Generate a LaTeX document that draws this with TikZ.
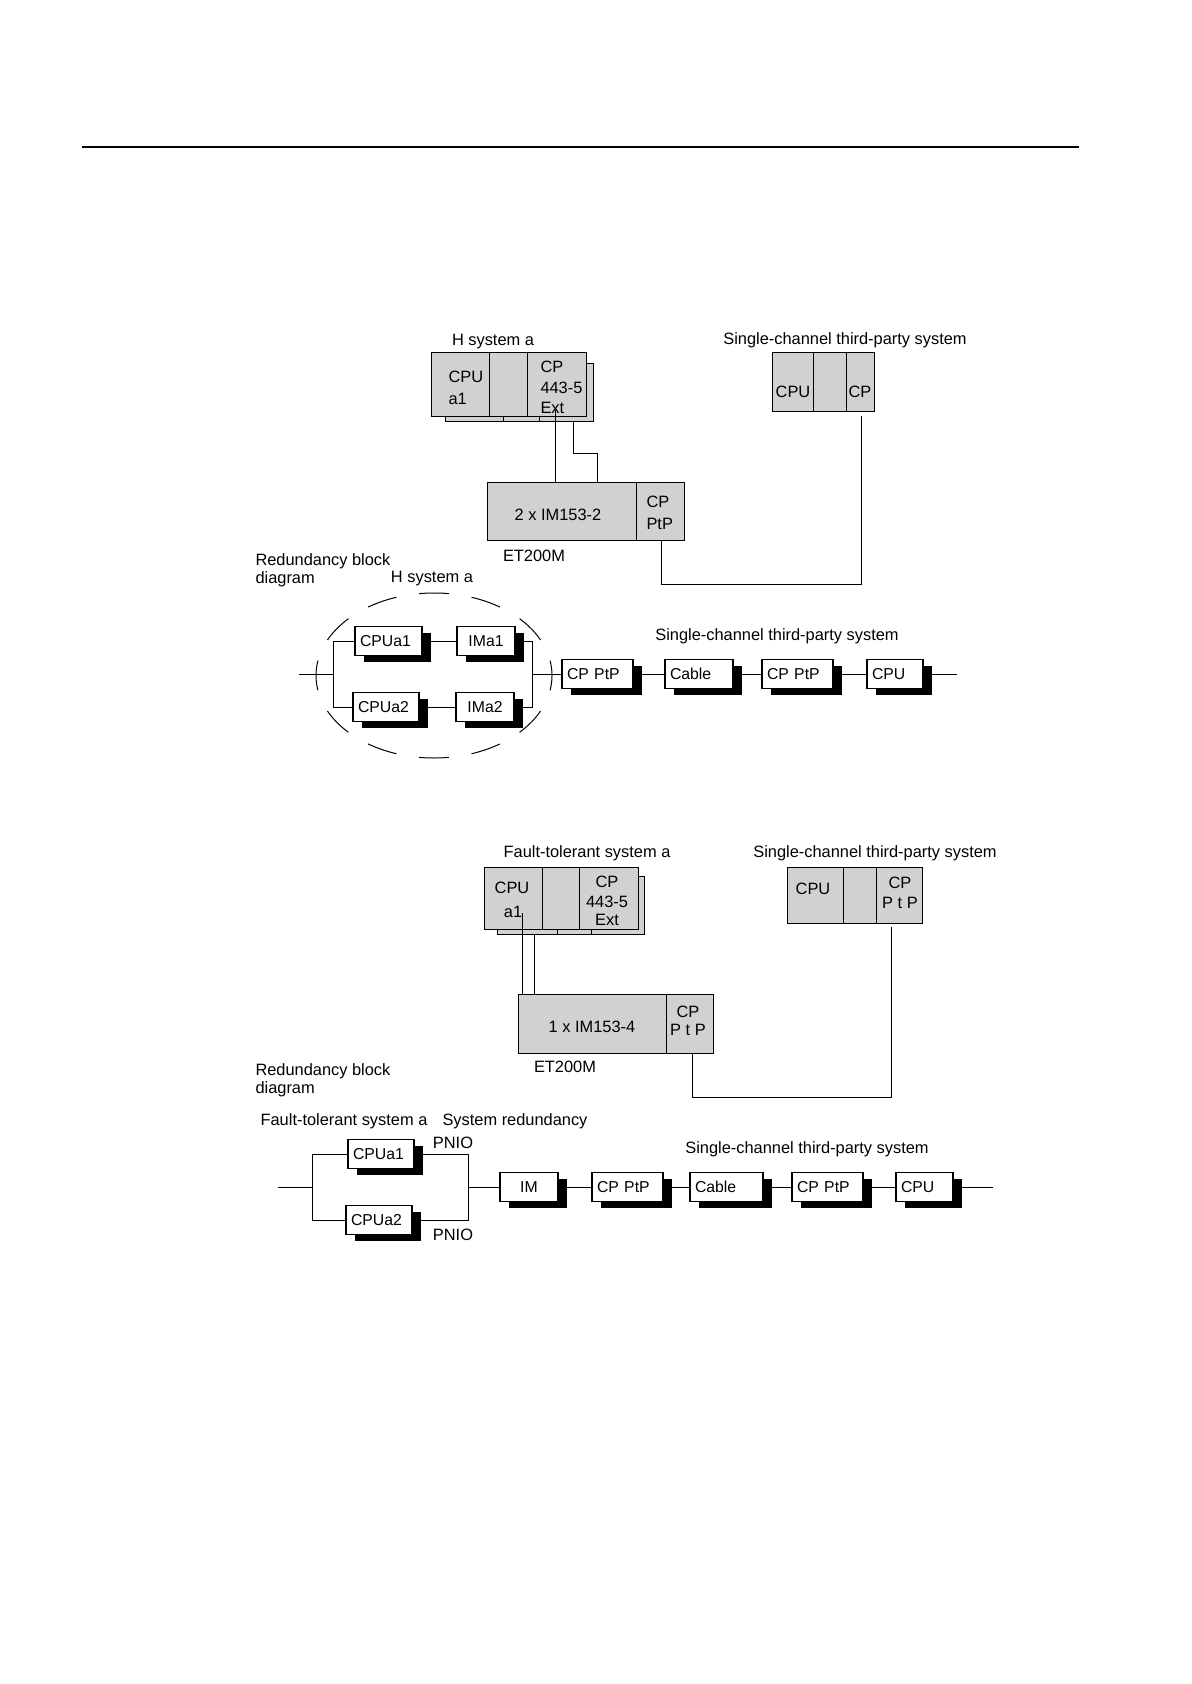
\documentclass[tikz,border=0pt]{standalone}
\usepackage{fontspec}
\setmainfont{Liberation Sans}
\usetikzlibrary{fit,shadows,shapes.geometric}
\begin{document}
\begin{tikzpicture}[x=0.5pt,y=-0.5pt, line width=0.5pt,
 mod/.style={draw, fill=black!18, inner sep=0pt},
 txt/.style={inner sep=0pt, text height=5.9pt, text depth=0pt, font=\fontsize{8.2}{10}\selectfont},
 blk/.style={draw, fill=white, line width=0.6pt, inner xsep=2.5pt, inner ysep=0pt, minimum height=14.5pt, align=left, text height=5.9pt, text depth=0pt, font=\fontsize{7.9}{9}\selectfont, general shadow={fill=black, shadow xshift=4.5pt, shadow yshift=-3pt}},
 blkc/.style={blk, align=center}]
\useasboundingbox (0,0) rectangle (1191,1684);

% header rule
\coordinate (hl) at (82,147);
\coordinate (hr) at (1079,147);
\draw[line width=0.7pt] (hl) -- (hr);

% ===================== Upper figure =====================
\node[txt] (ttlH) at (493,340) {H system a};
\node[txt] (ttlS1) at (845,339) {Single-channel third-party system};

% H system rack (back, then front)
\node[mod, fit={(445,364) (503,422)}] (hb1) {};
\node[mod, fit={(503,364) (539,422)}] (hb2) {};
\node[mod, fit={(539,364) (593,422)}] (hb3) {};
\node[mod, fit={(431,353) (489,417)}] (hf1) {};
\node[mod, fit={(489,353) (527,417)}] (hf2) {};
\node[mod, fit={(527,353) (586,417)}] (hf3) {};
\node[txt, anchor=west] (hcpu) at (448,377) {CPU};
\node[txt, anchor=west] (ha1) at (448,399) {a1};
\node[txt, anchor=west] (hcp) at (540,367) {CP};
\node[txt, anchor=west] (h443) at (540,388) {443-5};
\node[txt, anchor=west] (hext) at (540,408) {Ext};

% ET200M
\node[mod, fit={(487,482) (636,540)}] (im1) {};
\node[mod, fit={(636,482) (684,540)}] (cpq1) {};
\node[txt] (im1t) at (558,515) {2 x IM153-2};
\node[txt, anchor=west] (cpq1a) at (646,502) {CP};
\node[txt, anchor=west] (cpq1b) at (646,524) {PtP};
\node[txt] (et1) at (534,556) {ET200M};

\coordinate (c1a) at (555,410);
\draw (c1a) -- (c1a |- im1.north);
\coordinate (c2a) at (573,422);
\coordinate (c2b) at (597,453);
\draw (c2a) |- (c2b) -- (c2b |- im1.north);

% third-party rack
\node[mod, fit={(772,353) (813,412)}] (tp1) {};
\node[mod, fit={(813,353) (846,412)}] (tp2) {};
\node[mod, fit={(846,353) (874,412)}] (tp3) {};
\node[txt] (tpcpu) at (793,392) {CPU};
\node[txt] (tpcp) at (860,392) {CP};

\coordinate (c3a) at (661,540);
\coordinate (c3c) at (861,584);
\coordinate (c3d) at (861,416);
\draw (c3a) |- (c3c) -- (c3d);

% redundancy block diagram
\node[txt, anchor=west] (rb1) at (255,560) {Redundancy block};
\node[txt, anchor=west] (rb2) at (255,578) {diagram};
\node[txt] (hsa) at (432,577) {H system a};
\node[txt] (ttlS2) at (777,635) {Single-channel third-party system};

\node[draw, ellipse, minimum width=118pt, minimum height=82.5pt, inner sep=0pt,
      dash pattern=on 15pt off 11.45pt, dash phase=7.5pt] (hsys) at (434,675.5) {};

\node[blk, minimum width=33.5pt, text width=28.5pt] (cpua1) at (388.5,641) {CPUa1};
\node[blkc, minimum width=29pt, text width=24pt] (ima1) at (486,641) {IMa1};
\node[blk, minimum width=33pt, text width=28pt] (cpua2) at (386,707) {CPUa2};
\node[blkc, minimum width=29pt, text width=24pt] (ima2) at (485,707) {IMa2};

\node[blk, minimum width=35.5pt, text width=30.5pt] (cpp1) at (597.5,674) {CP PtP};
\node[blk, minimum width=34pt, text width=29pt] (cab1) at (699,674) {Cable};
\node[blk, minimum width=35.5pt, text width=30.5pt] (cpp2) at (797.5,674) {CP PtP};
\node[blk, minimum width=28pt, text width=23pt] (cpu1) at (895,674) {CPU};

\coordinate (in1) at (299,674);
\coordinate (jl1) at (333,674);
\coordinate (jr1) at (532,674);
\coordinate (out1) at (957,674);
\draw (in1) -- (jl1);
\draw (jl1) |- (cpua1.west);
\draw (jl1) |- (cpua2.west);
\draw (cpua1) -- (ima1);
\draw (cpua2) -- (ima2);
\draw (ima1.east) -| (jr1);
\draw (ima2.east) -| (jr1);
\draw (jr1) -- (cpp1.west);
\draw (cpp1) -- (cab1);
\draw (cab1) -- (cpp2);
\draw (cpp2) -- (cpu1);
\draw (cpu1) -- (out1);

% ===================== Lower figure =====================
\node[txt] (ttlF) at (587,852) {Fault-tolerant system a};
\node[txt] (ttlS3) at (875,852) {Single-channel third-party system};

\node[mod, fit={(497,876) (557,934)}] (fb1) {};
\node[mod, fit={(557,876) (591,934)}] (fb2) {};
\node[mod, fit={(591,876) (644,934)}] (fb3) {};
\node[mod, fit={(484,867) (542,929)}] (ff1) {};
\node[mod, fit={(542,867) (579,929)}] (ff2) {};
\node[mod, fit={(579,867) (638,929)}] (ff3) {};
\node[txt] (fcpu) at (512,888) {CPU};
\node[txt] (fa1) at (513,912) {a1};
\node[txt] (fcp) at (607,882) {CP};
\node[txt] (f443) at (607,902) {443-5};
\node[txt] (fext) at (607,920) {Ext};

\node[mod, fit={(518,994) (666,1053)}] (im2) {};
\node[mod, fit={(666,994) (713,1053)}] (cpq2) {};
\node[txt] (im2t) at (592,1027) {1 x IM153-4};
\node[txt] (cpq2a) at (688,1012) {CP};
\node[txt] (cpq2b) at (688,1030) {P t P};
\node[txt] (et2) at (565,1067) {ET200M};

\coordinate (d1a) at (522,913);
\draw (d1a) -- (d1a |- im2.north);
\coordinate (d2a) at (534,934);
\draw (d2a) -- (d2a |- im2.north);

\node[mod, fit={(787,867) (843,923)}] (tq1) {};
\node[mod, fit={(843,867) (876,923)}] (tq2) {};
\node[mod, fit={(876,867) (922,923)}] (tq3) {};
\node[txt] (tqcpu) at (813,889) {CPU};
\node[txt] (tqcp) at (900,883) {CP};
\node[txt] (tqptp) at (900,903) {P t P};

\coordinate (d3a) at (692,1053);
\coordinate (d3c) at (891,1097);
\coordinate (d3d) at (891,927);
\draw (d3a) |- (d3c) -- (d3d);

\node[txt, anchor=west] (rb3) at (255,1070) {Redundancy block};
\node[txt, anchor=west] (rb4) at (255,1088) {diagram};
\node[txt] (fts) at (344,1120) {Fault-tolerant system a};
\node[txt] (sred) at (515,1120) {System redundancy};
\node[txt] (ttlS4) at (807,1148) {Single-channel third-party system};
\node[txt] (pn1) at (453,1143) {PNIO};
\node[txt] (pn2) at (453,1235) {PNIO};

\node[blk, minimum width=33pt, text width=28pt] (fcpua1) at (381,1154) {CPUa1};
\node[blk, minimum width=33pt, text width=28pt] (fcpua2) at (379,1220) {CPUa2};
\node[blkc, minimum width=29pt, text width=24pt] (fim) at (529,1187) {IM};
\node[blk, minimum width=35.5pt, text width=30.5pt] (cpp3) at (627.5,1187) {CP PtP};
\node[blk, minimum width=36.5pt, text width=31.5pt] (cab2) at (726.5,1187) {Cable};
\node[blk, minimum width=35.5pt, text width=30.5pt] (cpp4) at (827.5,1187) {CP PtP};
\node[blk, minimum width=28.5pt, text width=23.5pt] (cpu2) at (924.5,1187) {CPU};

\coordinate (in2) at (278,1187);
\coordinate (jl2) at (312,1187);
\coordinate (jr2) at (468,1187);
\coordinate (out2) at (993,1187);
\draw (in2) -- (jl2);
\draw (jl2) |- (fcpua1.west);
\draw (jl2) |- (fcpua2.west);
\draw (fcpua1.east) -| (jr2);
\draw (fcpua2.east) -| (jr2);
\draw (jr2) -- (fim.west);
\draw (fim) -- (cpp3);
\draw (cpp3) -- (cab2);
\draw (cab2) -- (cpp4);
\draw (cpp4) -- (cpu2);
\draw (cpu2) -- (out2);
\end{tikzpicture}
\end{document}
